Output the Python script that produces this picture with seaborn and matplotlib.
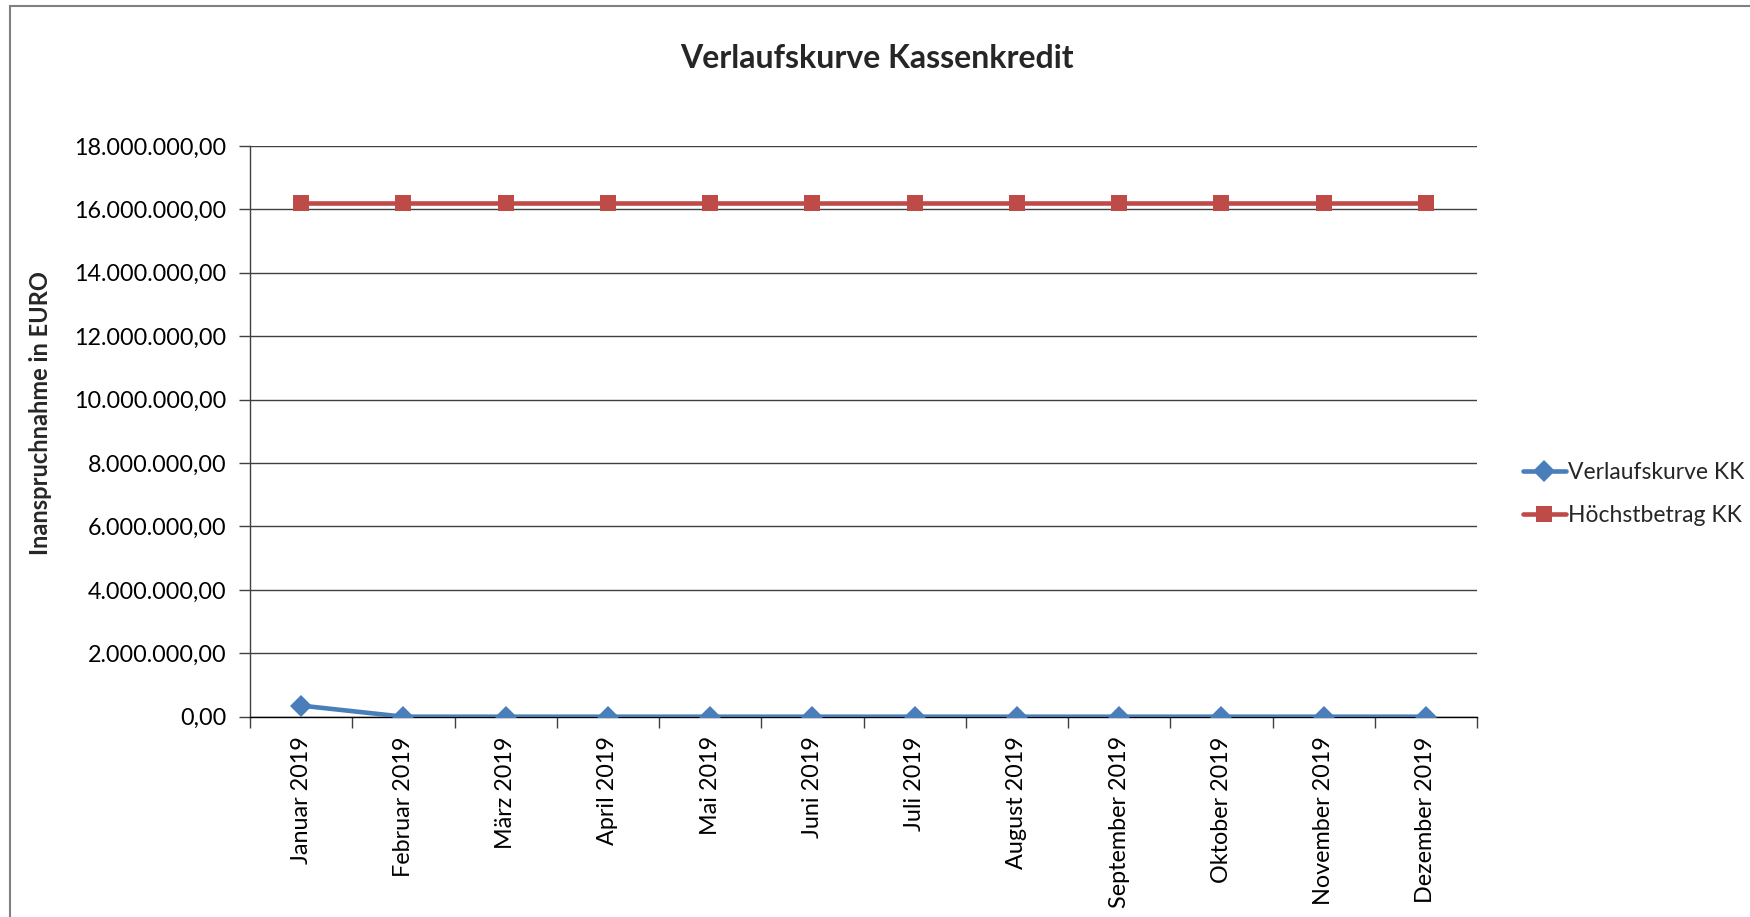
import matplotlib
matplotlib.use("Agg")
import matplotlib.pyplot as plt
import seaborn as sns
import pandas as pd
import numpy as np
from matplotlib.patches import Rectangle
from matplotlib.lines import Line2D
from matplotlib.ticker import FuncFormatter, MultipleLocator, FixedLocator

months = ["Januar 2019", "Februar 2019", "März 2019", "April 2019", "Mai 2019", "Juni 2019",
          "Juli 2019", "August 2019", "September 2019", "Oktober 2019", "November 2019", "Dezember 2019"]
verlauf_kk = [350000, 0, 0, 0, 0, 0, 0, 0, 0, 0, 0, 0]
hoechst_kk = [16200000] * 12
series_names = ["Verlaufskurve KK", "Höchstbetrag KK"]
colors = ["#4A7EBB", "#BE4B48"]

sns.set_theme(style="white")
plt.rcParams['font.family'] = ['Lato', 'DejaVu Sans']

df = pd.DataFrame({
    "Monat": months * 2,
    "Wert": verlauf_kk + hoechst_kk,
    "Serie": [series_names[0]] * 12 + [series_names[1]] * 12,
})

fig = plt.figure(figsize=(17.5, 9.17), dpi=100)
ax = fig.add_axes([250/1750, 1-716.7/917, (1477-250)/1750, (716.7-146)/917])

sns.lineplot(data=df, x="Monat", y="Wert", hue="Serie", style="Serie",
             markers={series_names[0]: "D", series_names[1]: "s"}, dashes=False,
             palette=dict(zip(series_names, colors)), linewidth=3.3,
             markersize=11, markeredgewidth=0, ax=ax, legend=False, sort=False, zorder=3)

ax.set_xlim(-0.5, 11.5)
ax.set_ylim(0, 18000000)
ax.yaxis.set_major_locator(MultipleLocator(2000000))
ax.yaxis.set_major_formatter(FuncFormatter(lambda v, p: f"{v:,.2f}".replace(",", "X").replace(".", ",").replace("X", ".")))
ax.grid(axis="y", color="#404040", linewidth=1)
ax.set_axisbelow(True)
for s in ["top", "right"]:
    ax.spines[s].set_visible(False)
ax.spines["left"].set_color("#404040")
ax.spines["bottom"].set_color("#000000")
ax.spines["left"].set_linewidth(1)
ax.spines["bottom"].set_linewidth(1)

fs = 16.8
ax.tick_params(axis="y", which="major", left=True, length=8, width=1, color="#404040",
               labelsize=fs, pad=9, labelcolor="black")
ax.xaxis.set_minor_locator(FixedLocator(np.arange(-0.5, 12, 1)))
ax.tick_params(axis="x", which="major", bottom=False, length=0, labelsize=fs, pad=14,
               labelrotation=90, labelcolor="black")
ax.tick_params(axis="x", which="minor", bottom=True, length=8, width=1, color="#404040")
ax.set_xlabel("")
ax.set_ylabel("Inanspruchnahme in EURO", fontsize=17, fontweight="bold")
ax.yaxis.set_label_coords(52/1750, 1-413/917, transform=fig.transFigure)

fig.text(877/1750, 1-59/917, "Verlaufskurve Kassenkredit", ha="center", va="center",
         fontsize=23, fontweight="bold")

handles = [Line2D([], [], color=colors[0], marker="D", lw=3.3, markersize=11, markeredgewidth=0),
           Line2D([], [], color=colors[1], marker="s", lw=3.3, markersize=11, markeredgewidth=0)]
fig.legend(handles, series_names, loc="center left", bbox_to_anchor=(1502/1750, 1-494/917),
           frameon=False, fontsize=16.5, handlelength=1.9, handletextpad=0.1, labelspacing=0.95)

fig.add_artist(Rectangle((10/1750, -0.1), 1.2, 1.1 - 6.5/917, transform=fig.transFigure,
                         fill=False, edgecolor="#808080", linewidth=1.5))

fig.savefig("out.png", dpi=100, facecolor="white")
